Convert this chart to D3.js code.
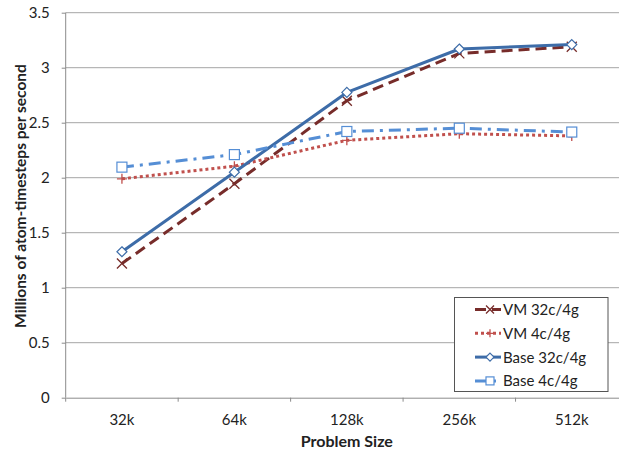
<!DOCTYPE html>
<html><head><meta charset="utf-8">
<script src="https://cdn.jsdelivr.net/npm/d3@7"></script>
<style>body{margin:0;background:#fff}svg{display:block}text{font-family:Lato,"Open Sans",sans-serif}</style>
</head><body>
<svg id="c" width="619" height="452"></svg>
<script>
const categories = ["32k","64k","128k","256k","512k"];
const seriesNames = ["VM 32c/4g","VM 4c/4g","Base 32c/4g","Base 4c/4g"];
const vm32 = [1.22,1.945,2.70,3.13,3.19];
const vm4 = [1.99,2.105,2.34,2.40,2.38];
const base32 = [1.327,2.05,2.775,3.17,3.21];
const base4 = [2.096,2.21,2.42,2.45,2.415];
const yTicks = [0,0.5,1,1.5,2,2.5,3,3.5];

(function(){
const styles = [
  {color:"#772c2a", dash:"11,6", marker:"x"},
  {color:"#c0504d", dash:"3,3", marker:"plus"},
  {color:"#3d6ca8", dash:null, marker:"diamond"},
  {color:"#558ed5", dash:"12,6,3,6", marker:"square"}
];
const data = [vm32, vm4, base32, base4];

const svg = d3.select("#c");
const pl=65.7, pr=628, pt=12.7, pb=397.7;
const x = d3.scaleBand().domain(categories).range([pl,pr]);
const y = d3.scaleLinear().domain([0,3.5]).range([pb,pt]);

svg.append("g").selectAll("line").data(yTicks.filter(d=>d>0)).join("line")
  .attr("x1",pl).attr("x2",pr).attr("y1",d=>y(d)).attr("y2",d=>y(d))
  .attr("stroke","#a6a6a6").attr("stroke-width",1);

const ya = svg.append("g").attr("transform",`translate(${pl},0)`)
  .call(d3.axisLeft(y).tickValues(yTicks).tickSize(4).tickPadding(12).tickFormat(d=>d3.format("")(d)));
ya.select(".domain").attr("stroke","#8c8c8c").attr("d",`M0,${pt}V${pb}`);
ya.selectAll(".tick line").attr("stroke","#8c8c8c");
ya.selectAll("text").attr("font-size",15).attr("fill","#222").attr("font-family","Lato");

const xa = svg.append("g").attr("transform",`translate(0,${pb})`)
  .call(d3.axisBottom(x).tickSize(0).tickPadding(16.5));
xa.select(".domain").attr("stroke","#8c8c8c");
xa.selectAll("text").attr("font-size",15).attr("fill","#222").attr("font-family","Lato");
const bounds = categories.map(c=>x(c)).concat([pr]);
svg.append("g").selectAll("line").data(bounds).join("line")
  .attr("x1",d=>d).attr("x2",d=>d).attr("y1",pb).attr("y2",pb+4)
  .attr("stroke","#8c8c8c");

svg.append("text").attr("x",(pl+pr)/2).attr("y",446.5).attr("text-anchor","middle")
  .attr("font-size",16).attr("font-weight","bold").attr("fill","#222").text("Problem Size");
svg.append("text").attr("transform",`translate(25.5,196) rotate(-90)`).attr("text-anchor","middle")
  .attr("font-size",15.5).attr("font-weight","bold").attr("fill","#222").text("Millions of atom-timesteps per second");

function drawMarker(g, type, cx, cy, color, r){
  r = r || 5;
  if(type==="x"){
    g.append("path").attr("d",`M${cx-r},${cy-r}L${cx+r},${cy+r}M${cx-r},${cy+r}L${cx+r},${cy-r}`)
      .attr("stroke",color).attr("stroke-width",1.3).attr("fill","none");
  } else if(type==="plus"){
    g.append("path").attr("d",`M${cx-r},${cy}L${cx+r},${cy}M${cx},${cy-r}L${cx},${cy+r}`)
      .attr("stroke",color).attr("stroke-width",1.3).attr("fill","none");
  } else if(type==="diamond"){
    g.append("path").attr("d",`M${cx},${cy-r}L${cx+r},${cy}L${cx},${cy+r}L${cx-r},${cy}Z`)
      .attr("stroke",color).attr("stroke-width",1.2).attr("fill","#fff");
  } else {
    g.append("rect").attr("x",cx-r).attr("y",cy-r).attr("width",2*r).attr("height",2*r)
      .attr("stroke",color).attr("stroke-width",1.2).attr("fill","#fff");
  }
}

const line = d3.line().x((d,i)=>x(categories[i])+x.bandwidth()/2).y(d=>y(d));
data.forEach((vals,si)=>{
  const s = styles[si];
  const g = svg.append("g");
  g.append("path").attr("d",line(vals)).attr("fill","none").attr("stroke",s.color)
    .attr("stroke-width",3).attr("stroke-dasharray",s.dash).attr("stroke-linejoin","round");
  vals.forEach((v,i)=>drawMarker(g,s.marker,x(categories[i])+x.bandwidth()/2,y(v),s.color));
});

const lg = svg.append("g");
lg.append("rect").attr("x",454.5).attr("y",297.5).attr("width",153.5).attr("height",94)
  .attr("fill","#fff").attr("stroke","#555").attr("stroke-width",1);
seriesNames.forEach((n,i)=>{
  const s = styles[i];
  const yy = 309.5 + i*23.8;
  lg.append("line").attr("x1",475).attr("x2",501).attr("y1",yy).attr("y2",yy)
    .attr("stroke",s.color).attr("stroke-width",3).attr("stroke-dasharray",s.dash);
  drawMarker(lg,s.marker,490,yy,s.color,4);
  lg.append("text").attr("x",503).attr("y",yy+5.5).attr("font-size",15).attr("fill","#222").text(n);
});
})();
</script>
</body></html>
